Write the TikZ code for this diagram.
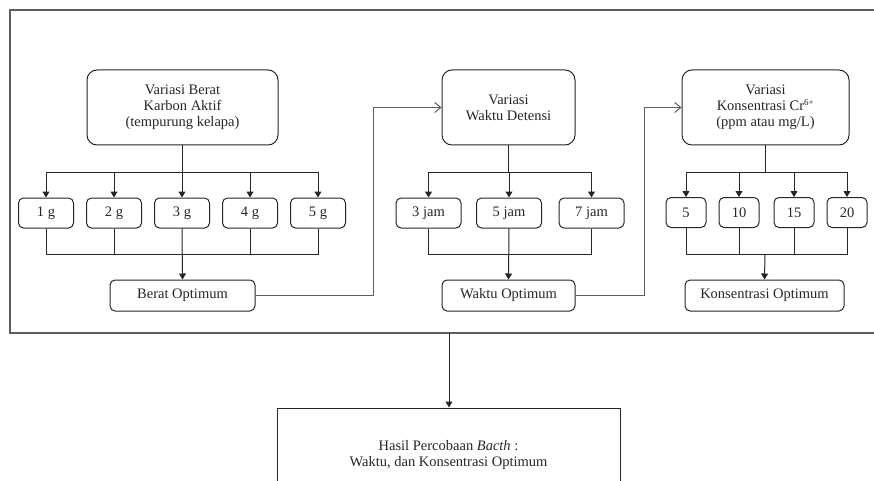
\documentclass[tikz,border=0pt]{standalone}
\usepackage{fontspec}
\setmainfont{Liberation Serif}
\usetikzlibrary{arrows.meta}
\definecolor{ln}{HTML}{262626}
\definecolor{gl}{HTML}{5E5E5E}
\tikzset{
  bigbox/.style={draw=ln, line width=1pt, rounded corners=10pt, align=center, inner sep=0pt, minimum height=75pt},
  smallbox/.style={draw=ln, line width=1pt, rounded corners=5pt, align=center, inner sep=0pt, minimum height=30pt},
  optbox/.style={draw=ln, line width=1pt, rounded corners=5pt, align=center, inner sep=0pt, minimum height=31pt},
  link/.style={draw=ln, line width=1pt},
  tip/.style={link, -{Triangle[length=6pt,width=7pt]}},
  longlink/.style={draw=gl, line width=1pt, -{Straight Barb[length=6pt,width=10pt]}},
}
\begin{document}
\begin{tikzpicture}[x=1pt,y=-1pt,font=\fontsize{14.5}{16}\selectfont, text=ln]
\useasboundingbox (0,0) rectangle (874,481);
% frame
\draw[draw=gl, line width=1.1pt] (880,10) -- (10,10) -- (10,333) -- (880,333);
\coordinate (fb) at (449,333);

% group 1
\node[bigbox, minimum width=191pt] (v1) at (182.5,107.5) {Variasi Berat\\Karbon Aktif\\(tempurung kelapa)};
\node[smallbox, minimum width=55pt] (g1) at (46,213) {1 g};
\node[smallbox, minimum width=55pt] (g2) at (114,213) {2 g};
\node[smallbox, minimum width=55pt] (g3) at (182,213) {3 g};
\node[smallbox, minimum width=55pt] (g4) at (250,213) {4 g};
\node[smallbox, minimum width=55pt] (g5) at (318,213) {5 g};
\node[optbox, minimum width=145pt] (o1) at (182.5,295.5) {Berat Optimum};
\coordinate (u1) at (182,172);
\coordinate (l1) at (182,254);
\draw[link] (v1.south) -- (v1.south |- u1);
\draw[link] (g1.north |- u1) -- (g5.north |- u1);
\foreach \n in {g1,g2,g3,g4,g5} \draw[tip] (\n.north |- u1) -- (\n.north);
\draw[link] (g1.south) |- (g5.south |- l1) -- (g5.south);
\foreach \n in {g2,g4} \draw[link] (\n.south) -- (\n.south |- l1);
\draw[tip] (g3.south) -- (o1.north);

% group 2
\node[bigbox, minimum width=133pt] (v2) at (508.5,107.5) {Variasi\\Waktu Detensi};
\node[smallbox, minimum width=65pt] (j1) at (428.5,213) {3 jam};
\node[smallbox, minimum width=65pt] (j2) at (509,213) {5 jam};
\node[smallbox, minimum width=65pt] (j3) at (591.5,213) {7 jam};
\node[optbox, minimum width=133pt] (o2) at (508.5,295.5) {Waktu Optimum};
\coordinate (u2) at (509,172);
\coordinate (l2) at (509,254);
\draw[link] (v2.south) -- (v2.south |- u2);
\draw[link] (j1.north |- u2) -- (j3.north |- u2);
\foreach \n in {j1,j2,j3} \draw[tip] (\n.north |- u2) -- (\n.north);
\draw[link] (j1.south) |- (j3.south |- l2) -- (j3.south);
\draw[tip] (j2.south) -- (o2.north);

% group 3
\node[bigbox, minimum width=167pt] (v3) at (765.5,107.5) {Variasi\\Konsentrasi Cr\textsuperscript{\fontsize{9}{9}\selectfont 6+}\\(ppm atau mg/L)};
\node[smallbox, minimum width=40pt] (k1) at (686,212.5) {5};
\node[smallbox, minimum width=40pt] (k2) at (739,212.5) {10};
\node[smallbox, minimum width=40pt] (k3) at (794,212.5) {15};
\node[smallbox, minimum width=40pt] (k4) at (847,212.5) {20};
\node[optbox, minimum width=159pt] (o3) at (764.5,295.5) {Konsentrasi Optimum};
\coordinate (u3) at (765,172);
\coordinate (l3) at (765,254);
\draw[link] (v3.south) -- (v3.south |- u3);
\draw[link] (k1.north |- u3) -- (k4.north |- u3);
\foreach \n in {k1,k2,k3,k4} \draw[tip] (\n.north |- u3) -- (\n.north);
\draw[link] (k1.south) |- (k4.south |- l3) -- (k4.south);
\foreach \n in {k2,k3} \draw[link] (\n.south) -- (\n.south |- l3);
\draw[tip] (l3) -- (o3.north);

% long connectors
\draw[longlink] (o1.east) -- ++(118,0) |- (v2.west);
\draw[longlink] (o2.east) -- ++(69,0) |- (v3.west);

% result
\node[draw=ln, line width=1pt, minimum width=343pt, minimum height=95pt, align=center, inner sep=0pt] (res) at (448.5,455.5) {Hasil Percobaan \textit{Bacth} :\\Waktu, dan Konsentrasi Optimum};
\draw[tip] (fb) -- (fb |- res.north);
\end{tikzpicture}
\end{document}
